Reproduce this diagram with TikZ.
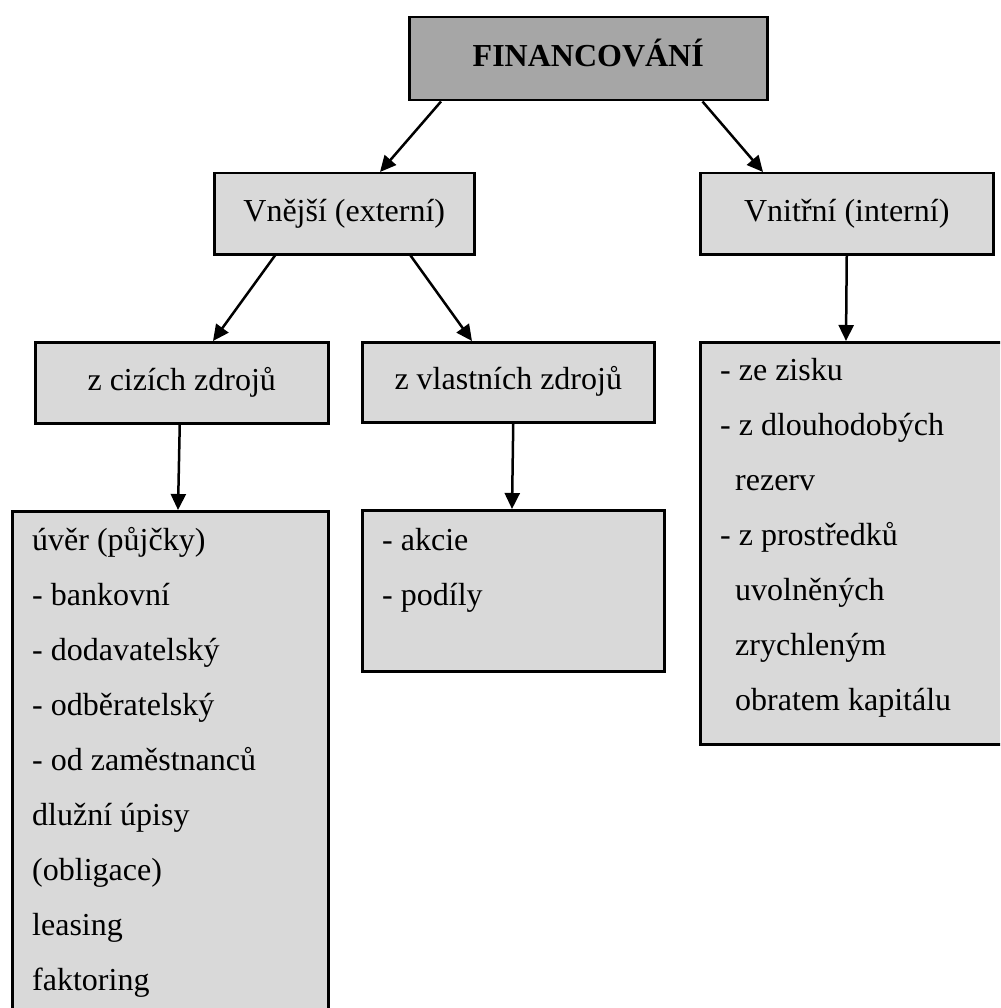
\documentclass[tikz,border=0pt]{standalone}
\usepackage{fontspec}
\setmainfont{Liberation Serif}
\usetikzlibrary{arrows.meta,positioning}
\definecolor{boxgray}{HTML}{D9D9D9}
\definecolor{topgray}{HTML}{A6A6A6}

\begin{document}
\begin{tikzpicture}[x=1pt,y=-1pt,
  font=\fontsize{32}{55}\selectfont,
  box/.style={draw=black,line width=2.5pt,fill=boxgray,anchor=north west,inner sep=0pt},
  head/.style={box,text height=22pt,text depth=7pt},
  item/.style={anchor=base west,inner sep=0pt},
  arr/.style={line width=2.5pt,-{Triangle[length=16pt,width=15pt]}}]

\useasboundingbox (0,0) rectangle (1000,1008);
\clip (0,0) rectangle (1000,1008);

\node[head,fill=topgray,minimum width=358pt,minimum height=83pt,font=\fontsize{32}{55}\selectfont\bfseries] (fin) at (408,16) {FINANCOVÁNÍ};
\node[head,minimum width=260pt,minimum height=81pt] (ext) at (213,172) {Vnější (externí)};
\node[head,minimum width=293pt,minimum height=81pt] (int) at (699,172) {Vnitřní (interní)};
\node[head,minimum width=293pt,minimum height=81pt] (cizi) at (34,341) {z cizích zdrojů};
\node[head,minimum width=292pt,minimum height=80pt] (vlast) at (361,341) {z vlastních zdrojů};
\node[box,minimum width=316pt,minimum height=505pt] (cizilist) at (11,510) {};
\node[box,minimum width=302pt,minimum height=161pt] (vlastlist) at (361,509) {};
\node[box,minimum width=304pt,minimum height=402pt] (intlist) at (699,341) {};

\draw[arr] ([xshift=33pt]fin.south west) -- ([xshift=167pt]ext.north west);
\draw[arr] ([xshift=-66pt]fin.south east) -- ([xshift=64pt]int.north west);
\draw[arr] ([xshift=62pt]ext.south west) -- ([xshift=179pt]cizi.north west);
\draw[arr] ([xshift=-65pt]ext.south east) -- ([xshift=111pt]vlast.north west);
\draw[arr] ([xshift=-2pt]cizi.south) -- ([xshift=167pt]cizilist.north west);
\draw[arr] ([xshift=5pt]vlast.south) -- ([xshift=151pt]vlastlist.north west);
\draw[arr] (int.south) -- ([xshift=147pt]intlist.north west);

\foreach \txt [count=\i] in {úvěr (půjčky), - bankovní, - dodavatelský, - odběratelský,
  - od zaměstnanců, dlužní úpisy, {(obligace)}, leasing, faktoring}
  \node[item] (ci\i) at (32,495+55*\i) {\txt};
\foreach \txt [count=\i] in {- akcie, - podíly}
  \node[item] (vl\i) at (382,495+55*\i) {\txt};
\foreach \x/\txt [count=\i] in {720/- ze zisku, 720/- z dlouhodobých, 735/rezerv,
  720/- z prostředků, 735/uvolněných, 735/zrychleným, 735/obratem kapitálu}
  \node[item] (in\i) at (\x,325+55*\i) {\txt};
\end{tikzpicture}
\end{document}
